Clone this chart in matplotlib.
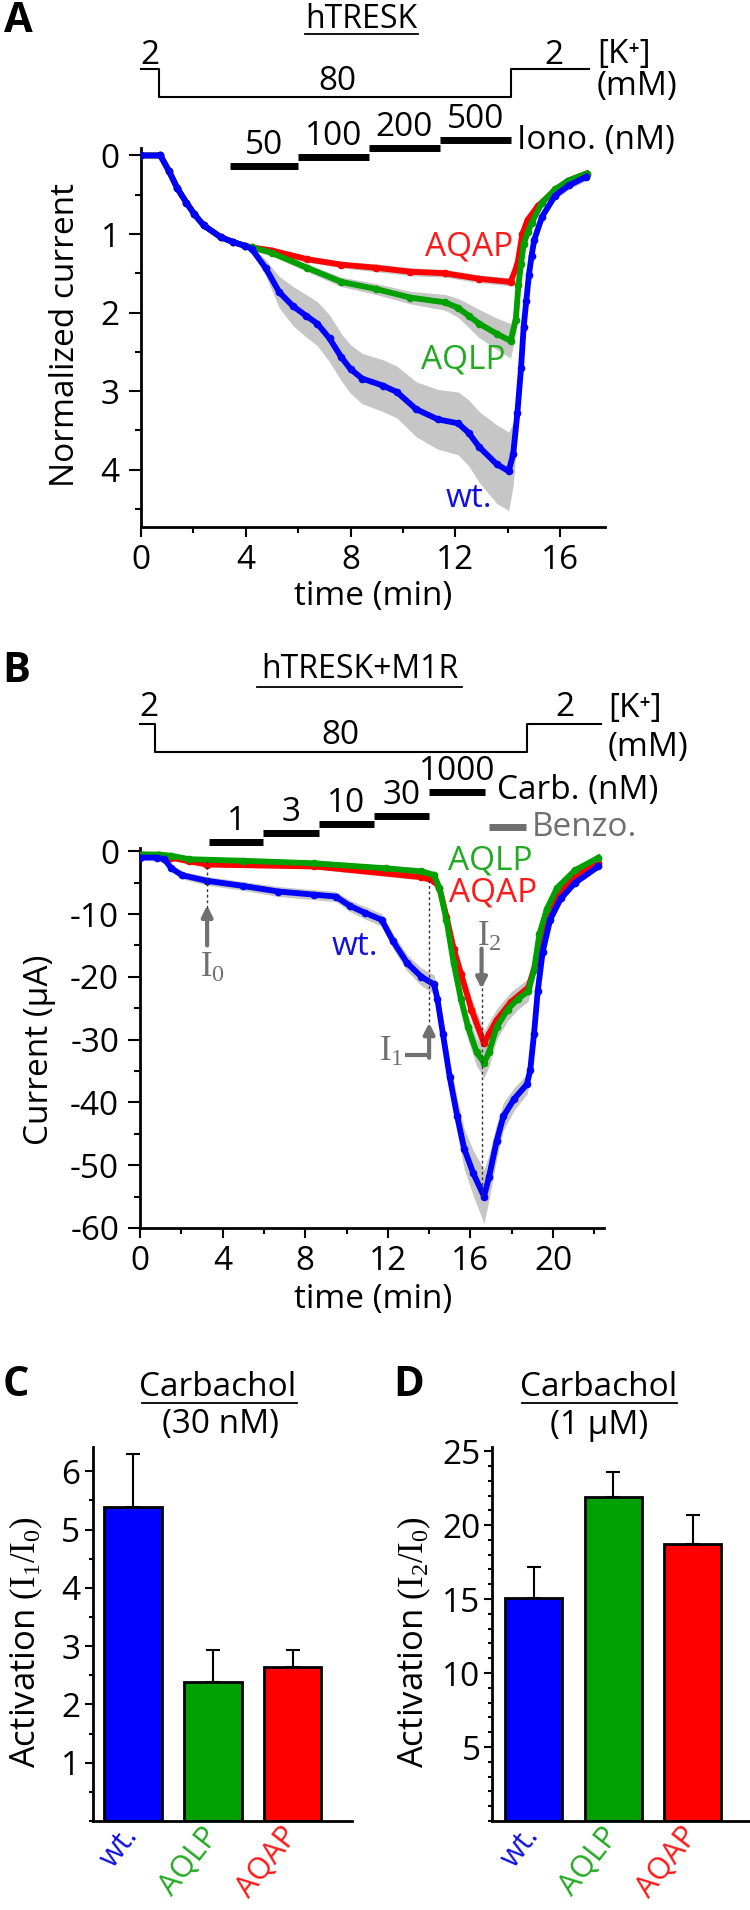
import matplotlib.pyplot as plt
from matplotlib.lines import Line2D
from matplotlib.transforms import blended_transform_factory
from matplotlib.ticker import MultipleLocator

plt.rcParams['font.family'] = ['Open Sans', 'DejaVu Sans']
plt.rcParams['mathtext.fontset'] = 'custom'
plt.rcParams['mathtext.rm'] = 'Liberation Serif'
plt.rcParams['axes.unicode_minus'] = False

# ---- panel A: hTRESK, ionomycin (normalized current) ----
t_a_wt = [0, 0.75, 1.08, 1.4, 1.74, 2.05, 2.4, 3.05, 3.5, 3.97, 4.23, 4.76, 5.28, 5.81, 6.3, 6.73, 7.2,
          7.65, 8.0, 8.44, 9.23, 9.76, 10.5, 11.33, 12.1, 12.5, 12.9, 13.57, 14.03, 14.2, 14.36, 14.5,
          14.6, 14.7, 14.8, 14.9, 15.0, 15.3, 15.8, 16.33, 16.99]
wt_a = [0, 0, 0.2, 0.42, 0.6, 0.75, 0.89, 1.04, 1.10, 1.15, 1.19, 1.43, 1.74, 1.92, 2.04, 2.14, 2.33,
        2.57, 2.72, 2.84, 2.93, 3.01, 3.23, 3.36, 3.41, 3.53, 3.71, 3.93, 4.02, 3.8, 3.28, 2.7,
        2.18, 1.85, 1.52, 1.28, 1.08, 0.78, 0.51, 0.38, 0.27]
wt_a_sem = [0, 0, 0.02, 0.03, 0.03, 0.03, 0.03, 0.03, 0.03, 0.03, 0.04, 0.1, 0.2, 0.25, 0.27, 0.28, 0.3,
            0.3, 0.31, 0.32, 0.33, 0.33, 0.35, 0.38, 0.4, 0.42, 0.45, 0.5, 0.5, 0.4, 0.3, 0.2,
            0.15, 0.12, 0.1, 0.08, 0.07, 0.05, 0.05, 0.05, 0.05]

t_a_lp = [0, 0.75, 1.08, 1.4, 1.74, 2.05, 2.4, 3.05, 3.5, 3.97, 4.23, 5.0, 6.34, 7.65, 8.97, 10.28,
          11.6, 12.1, 12.5, 12.9, 13.57, 14.1, 14.3, 14.4, 14.5, 14.6, 14.75, 14.9, 15.3, 15.8, 16.3, 17.0]
lp_a = [0, 0, 0.2, 0.42, 0.6, 0.75, 0.89, 1.04, 1.10, 1.15, 1.17, 1.24, 1.43, 1.61, 1.70, 1.81,
        1.87, 1.94, 2.04, 2.14, 2.27, 2.36, 2.09, 1.65, 1.38, 1.13, 0.98, 0.86, 0.6, 0.43, 0.32, 0.23]
lp_a_sem = [0, 0, 0.02, 0.02, 0.02, 0.02, 0.02, 0.02, 0.02, 0.02, 0.03, 0.04, 0.05, 0.06, 0.07, 0.08,
            0.1, 0.12, 0.15, 0.18, 0.2, 0.22, 0.18, 0.12, 0.08, 0.06, 0.05, 0.05, 0.04, 0.04, 0.04, 0.04]

t_a_ap = [0, 0.75, 1.08, 1.4, 1.74, 2.05, 2.4, 3.05, 3.5, 3.97, 4.23, 5.0, 6.34, 7.65, 8.97, 10.28,
          11.6, 12.9, 14.1, 14.36, 14.55, 14.75, 15.15, 15.7, 16.3, 17.0]
ap_a = [0, 0, 0.2, 0.42, 0.6, 0.75, 0.89, 1.04, 1.10, 1.15, 1.17, 1.21, 1.32, 1.39, 1.43, 1.48,
        1.50, 1.57, 1.61, 1.39, 1.0, 0.82, 0.64, 0.47, 0.32, 0.23]
ap_a_sem = [0, 0, 0.02, 0.02, 0.02, 0.02, 0.02, 0.02, 0.02, 0.02, 0.03, 0.04, 0.04, 0.04, 0.05, 0.05,
            0.05, 0.05, 0.05, 0.05, 0.04, 0.04, 0.04, 0.04, 0.04, 0.04]

k_times_a = [0, 0.7, 14.1, 17.1]
iono_labels = ['50', '100', '200', '500']
iono_start = [3.4, 6.0, 8.7, 11.4]
iono_end = [6.0, 8.7, 11.4, 14.1]

# ---- panel B: hTRESK+M1R, carbachol (current, uA) ----
t_b_wt = [0, 0.83, 1.18, 1.52, 2.04, 3.25, 4.98, 6.7, 8.44, 9.48, 10.17, 10.9, 11.7, 12.25, 12.94,
          13.63, 14.24, 14.4, 14.67, 15.0, 15.36, 15.7, 16.14, 16.66, 16.9, 17.27, 17.6, 18.13,
          18.74, 18.9, 19.08, 19.26, 19.5, 19.86, 20.38, 21.07, 22.2]
wt_b = [-1, -1, -1.25, -2.7, -3.8, -4.7, -5.5, -6.4, -6.9, -7.2, -8.7, -9.8, -10.9, -14.3, -17.8,
        -20.0, -21.2, -23.5, -29.1, -36.0, -42.2, -47.4, -51.3, -55.0, -51.9, -46.2, -42.2, -39.4,
        -37.1, -34.8, -29.1, -22.3, -16.0, -10.9, -7.5, -5.0, -2.4]
wt_b_sem = [0.2, 0.2, 0.3, 0.5, 0.6, 0.7, 0.7, 0.8, 0.8, 0.8, 0.9, 1.0, 1.0, 1.2, 1.3,
            1.4, 1.5, 1.6, 2.0, 2.4, 2.8, 3.2, 3.6, 4.3, 3.6, 2.8, 2.2, 1.8,
            1.6, 1.5, 1.3, 1.1, 0.9, 0.7, 0.6, 0.5, 0.4]

t_b_lp = [0, 0.9, 1.52, 2.39, 4.98, 8.44, 11.9, 13.63, 14.24, 14.5, 14.84, 15.19, 15.54, 15.88,
          16.3, 16.66, 16.9, 17.27, 17.8, 18.3, 18.8, 19.08, 19.34, 19.7, 20.2, 21.07, 22.2]
lp_b = [-0.5, -0.5, -0.7, -1.25, -1.5, -1.9, -2.7, -3.2, -3.8, -5.8, -10.9, -17.8, -23.5, -28.0,
        -32.0, -33.7, -32.0, -28.0, -25.2, -23.5, -22.3, -18.9, -13.2, -9.2, -5.8, -3.0, -1.0]
lp_b_sem = [0.1, 0.1, 0.2, 0.3, 0.3, 0.4, 0.5, 0.6, 0.7, 0.9, 1.2, 1.5, 1.8, 2.0,
            2.2, 2.4, 2.3, 2.0, 1.8, 1.7, 1.6, 1.4, 1.1, 0.9, 0.6, 0.4, 0.3]

t_b_ap = [0, 0.9, 1.52, 2.39, 3.25, 8.44, 13.63, 14.24, 14.5, 14.84, 15.19, 15.54, 16.05, 16.66,
          16.9, 17.27, 17.96, 18.8, 19.17, 19.5, 20.0, 20.9, 22.2]
ap_b = [-0.5, -0.6, -1.0, -1.6, -2.1, -2.4, -4.1, -4.7, -5.8, -10.4, -15.5, -19.5, -25.2, -30.6,
        -29.1, -26.9, -24.0, -21.7, -17.8, -12.1, -8.1, -4.4, -1.8]
ap_b_sem = [0.1, 0.1, 0.2, 0.3, 0.3, 0.4, 0.5, 0.6, 0.8, 1.0, 1.3, 1.6, 1.8, 2.0,
            1.9, 1.8, 1.6, 1.4, 1.2, 1.0, 0.7, 0.5, 0.3]

k_times_b = [0, 0.73, 18.75, 22.3]
carb_labels = ['1', '3', '10', '30', '1000']
carb_start = [3.35, 5.96, 8.67, 11.33, 14.0]
carb_end = [5.96, 8.67, 11.33, 14.0, 16.7]
benzo_start, benzo_end = 16.9, 18.7

# ---- panels C and D: activation bars ----
groups = ['wt.', 'AQLP', 'AQAP']
act30_mean = [5.38, 2.39, 2.65]
act30_sem = [0.91, 0.54, 0.29]
act1000_mean = [15.1, 21.9, 18.7]
act1000_sem = [2.1, 1.7, 1.95]

BLUE, GREEN, RED = '#0000ff', '#00a000', '#ff0000'
TXT_BLUE, TXT_GREEN, TXT_RED = '#1010e0', '#22aa22', '#ff1a1a'
GREY = '#707070'
BAND = '#c6c6c6'
FS = 24

W, H = 750, 1910
fig = plt.figure(figsize=(7.5, 19.1), dpi=100)


def fx(px):
    return px / W


def fy(py):
    return 1 - py / H


def ftext(x, y, s, **kw):
    kw.setdefault('ha', 'center')
    kw.setdefault('va', 'center')
    kw.setdefault('fontsize', FS)
    return fig.text(fx(x), fy(y), s, **kw)


def uline(x0, x1, y):
    fig.add_artist(Line2D([fx(x0), fx(x1)], [fy(y), fy(y)], color='k', lw=1.3))


def style(ax):
    for s in ['top', 'right']:
        ax.spines[s].set_visible(False)
    for s in ['left', 'bottom']:
        ax.spines[s].set_linewidth(2)
    ax.tick_params(which='major', length=7, width=1.5, labelsize=FS, direction='out')
    ax.tick_params(which='minor', length=4, width=1.5, direction='out')


def trace(ax, t, m, s, color, ms=4.5):
    lo = [a - b for a, b in zip(m, s)]
    hi = [a + b for a, b in zip(m, s)]
    ax.fill_between(t, lo, hi, color=BAND, lw=0, zorder=1)
    ax.plot(t, m, color=color, lw=4.2, marker='o', ms=ms, zorder=3)


def k_step(ax, tr, times, y_hi, y_lo):
    xs = [times[0], times[1], times[1], times[2], times[2], times[3]]
    ys = [y_hi, y_hi, y_lo, y_lo, y_hi, y_hi]
    ax.plot(xs, [fy(v) for v in ys], transform=tr, clip_on=False, color='k', lw=1.5)


# ================= Panel A =================
axA = fig.add_axes([fx(140.7), fy(527), fx(605) - fx(140.7), (527 - 147.6) / H])
style(axA)
axA.set_xlim(0, 17.7)
axA.set_ylim(4.73, -0.1)
axA.xaxis.set_major_locator(MultipleLocator(4))
axA.xaxis.set_minor_locator(MultipleLocator(2))
axA.yaxis.set_major_locator(MultipleLocator(1))
axA.yaxis.set_minor_locator(MultipleLocator(0.5))
axA.tick_params(axis='y', which='major', length=9, pad=6)
axA.tick_params(axis='x', which='major', pad=5)

trace(axA, t_a_ap, ap_a, ap_a_sem, RED)
trace(axA, t_a_lp, lp_a, lp_a_sem, GREEN)
trace(axA, t_a_wt, wt_a, wt_a_sem, BLUE)

axA.text(12.5, 1.17, 'AQAP', color=TXT_RED, fontsize=FS, ha='center', va='center')
axA.text(12.3, 2.6, 'AQLP', color=TXT_GREEN, fontsize=FS, ha='center', va='center')
axA.text(12.5, 4.37, 'wt.', color=TXT_BLUE, fontsize=FS, ha='center', va='center')

ftext(373, 597, 'time (min)')
ftext(66, 335, 'Normalized current', rotation=90)

trA = blended_transform_factory(axA.transData, fig.transFigure)
k_step(axA, trA, k_times_a, 69, 97)
bar_y = [166, 157, 148, 140]
for lab, s, e, y in zip(iono_labels, iono_start, iono_end, bar_y):
    axA.plot([s, e], [fy(y), fy(y)], transform=trA, clip_on=False, color='k', lw=5,
             solid_capstyle='butt')
    axA.text((s + e) / 2, fy(y - 4), lab, transform=trA, ha='center', va='bottom', fontsize=FS)

ftext(18, 22, 'A', fontsize=30, fontweight='bold')
ftext(361, 20, 'hTRESK', fontsize=23)
uline(305, 418, 34)
ftext(150, 55, '2')
ftext(337, 82, '80')
ftext(554, 55, '2')
ftext(597, 55, '[K⁺]', ha='left')
ftext(597, 87, '(mM)', ha='left')
ftext(517, 140, 'Iono. (nM)', ha='left')

# ================= Panel B =================
axB = fig.add_axes([fx(140), fy(1227.9), fx(603.6) - fx(140), (1227.9 - 847.6) / H])
style(axB)
axB.set_xlim(0, 22.45)
axB.set_ylim(-60, 0.6)
axB.xaxis.set_major_locator(MultipleLocator(4))
axB.xaxis.set_minor_locator(MultipleLocator(2))
axB.yaxis.set_major_locator(MultipleLocator(10))
axB.yaxis.set_minor_locator(MultipleLocator(5))
axB.tick_params(axis='y', which='major', length=9, pad=6)
axB.tick_params(axis='x', which='major', pad=5)

trace(axB, t_b_ap, ap_b, ap_b_sem, RED)
trace(axB, t_b_lp, lp_b, lp_b_sem, GREEN)
trace(axB, t_b_wt, wt_b, wt_b_sem, BLUE)

axB.text(16.96, -1.5, 'AQLP', color=TXT_GREEN, fontsize=FS, ha='center', va='center')
axB.text(17.1, -6.7, 'AQAP', color=TXT_RED, fontsize=FS, ha='center', va='center')
axB.text(10.43, -15.2, 'wt.', color=TXT_BLUE, fontsize=FS, ha='center', va='center')

# I0 / I1 / I2 markers
dots = dict(color='#333333', lw=1, ls=(0, (2, 2)), zorder=4)
arr = dict(arrowstyle='-|>', color=GREY, lw=3, mutation_scale=16, shrinkA=0, shrinkB=0)
axB.plot([3.25, 3.25], [-1.6, -9.0], **dots)
axB.annotate('', xy=(3.25, -8.6), xytext=(3.25, -15.0), arrowprops=arr)
axB.text(3.51, -18.6, r'$\mathrm{I_0}$', color=GREY, fontsize=25, ha='center', va='center')
axB.plot([14.0, 14.0], [-4.6, -27.5], **dots)
axB.plot([12.85, 14.0], [-32.5, -32.5], color=GREY, lw=3, solid_capstyle='butt')
axB.annotate('', xy=(14.0, -27.3), xytext=(14.0, -32.9), arrowprops=arr)
axB.text(12.16, -32.0, r'$\mathrm{I_1}$', color=GREY, fontsize=25, ha='center', va='center')
axB.plot([16.54, 16.54], [-21.7, -55], **dots)
axB.annotate('', xy=(16.54, -21.9), xytext=(16.54, -15.5), arrowprops=arr)
axB.text(16.9, -13.6, r'$\mathrm{I_2}$', color=GREY, fontsize=25, ha='center', va='center')

ftext(373, 1299, 'time (min)')
ftext(40, 1050, 'Current (μA)', rotation=90)

trB = blended_transform_factory(axB.transData, fig.transFigure)
k_step(axB, trB, k_times_b, 724, 752)
carb_y = [842, 833, 824, 816, 792]
for lab, s, e, y in zip(carb_labels, carb_start, carb_end, carb_y):
    axB.plot([s, e], [fy(y), fy(y)], transform=trB, clip_on=False, color='k', lw=5,
             solid_capstyle='butt')
    axB.text((s + e) / 2, fy(y - 4), lab, transform=trB, ha='center', va='bottom', fontsize=FS)
axB.plot([benzo_start, benzo_end], [fy(827), fy(827)], transform=trB, clip_on=False,
         color=GREY, lw=5, solid_capstyle='butt')

ftext(16, 671, 'B', fontsize=30, fontweight='bold')
ftext(360, 670, 'hTRESK+M1R', fontsize=23)
uline(257, 462, 687)
ftext(149, 708, '2')
ftext(340, 735, '80')
ftext(565, 708, '2')
ftext(608, 708, '[K⁺]', ha='left')
ftext(608, 747, '(mM)', ha='left')
ftext(497, 790, 'Carb. (nM)', ha='left')
ftext(532, 827, 'Benzo.', ha='left', color=GREY)

# ================= Panels C and D =================
label_colors = [TXT_BLUE, TXT_GREEN, TXT_RED]


def bar_panel(ax, means, sems, width):
    style(ax)
    ax.bar(range(3), means, width=width, color=[BLUE, GREEN, RED], edgecolor='k', lw=2,
           yerr=[[0, 0, 0], sems], capsize=5,
           error_kw=dict(elinewidth=1.5, capthick=1.5, ecolor='k'), zorder=2)
    ax.set_xticks(range(3))
    ax.set_xticklabels(groups, rotation=52, ha='right', va='center', rotation_mode='anchor',
                       fontsize=22)
    for lab, c in zip(ax.get_xticklabels(), label_colors):
        lab.set_color(c)
    ax.tick_params(axis='x', length=0, pad=7)
    ax.tick_params(axis='y', which='major', length=6)
    ax.tick_params(axis='y', which='minor', length=3)


axC = fig.add_axes([fx(92.7), fy(1821), fx(352) - fx(92.7), (1821 - 1447.3) / H])
bar_panel(axC, act30_mean, act30_sem, 0.716)
axC.set_xlim(-0.504, 2.74)
axC.set_ylim(0, 6.41)
axC.set_yticks([1, 2, 3, 4, 5, 6])
axC.yaxis.set_minor_locator(MultipleLocator(0.5))
axC.tick_params(axis='y', pad=3)

axD = fig.add_axes([fx(491.7), fy(1821), fx(750) - fx(491.7), (1821 - 1446.7) / H])
bar_panel(axD, act1000_mean, act1000_sem, 0.72)
axD.set_xlim(-0.53, 2.72)
axD.set_ylim(0, 25.3)
axD.set_yticks([5, 10, 15, 20, 25])
axD.yaxis.set_minor_locator(MultipleLocator(1))
axD.tick_params(axis='y', pad=2)

ftext(16, 1385, 'C', fontsize=30, fontweight='bold')
ftext(218, 1388, 'Carbachol')
uline(142, 297, 1403)
ftext(220, 1425, '(30 nM)')
ftext(26, 1642, r'Activation $\mathrm{(I_1/I_0)}$', rotation=90, fontsize=25)

ftext(409, 1385, 'D', fontsize=30, fontweight='bold')
ftext(599, 1388, 'Carbachol')
uline(522, 677, 1403)
ftext(599, 1425, '(1 μM)')
ftext(414, 1642, r'Activation $\mathrm{(I_2/I_0)}$', rotation=90, fontsize=25)

plt.savefig('out.png', dpi=100)
